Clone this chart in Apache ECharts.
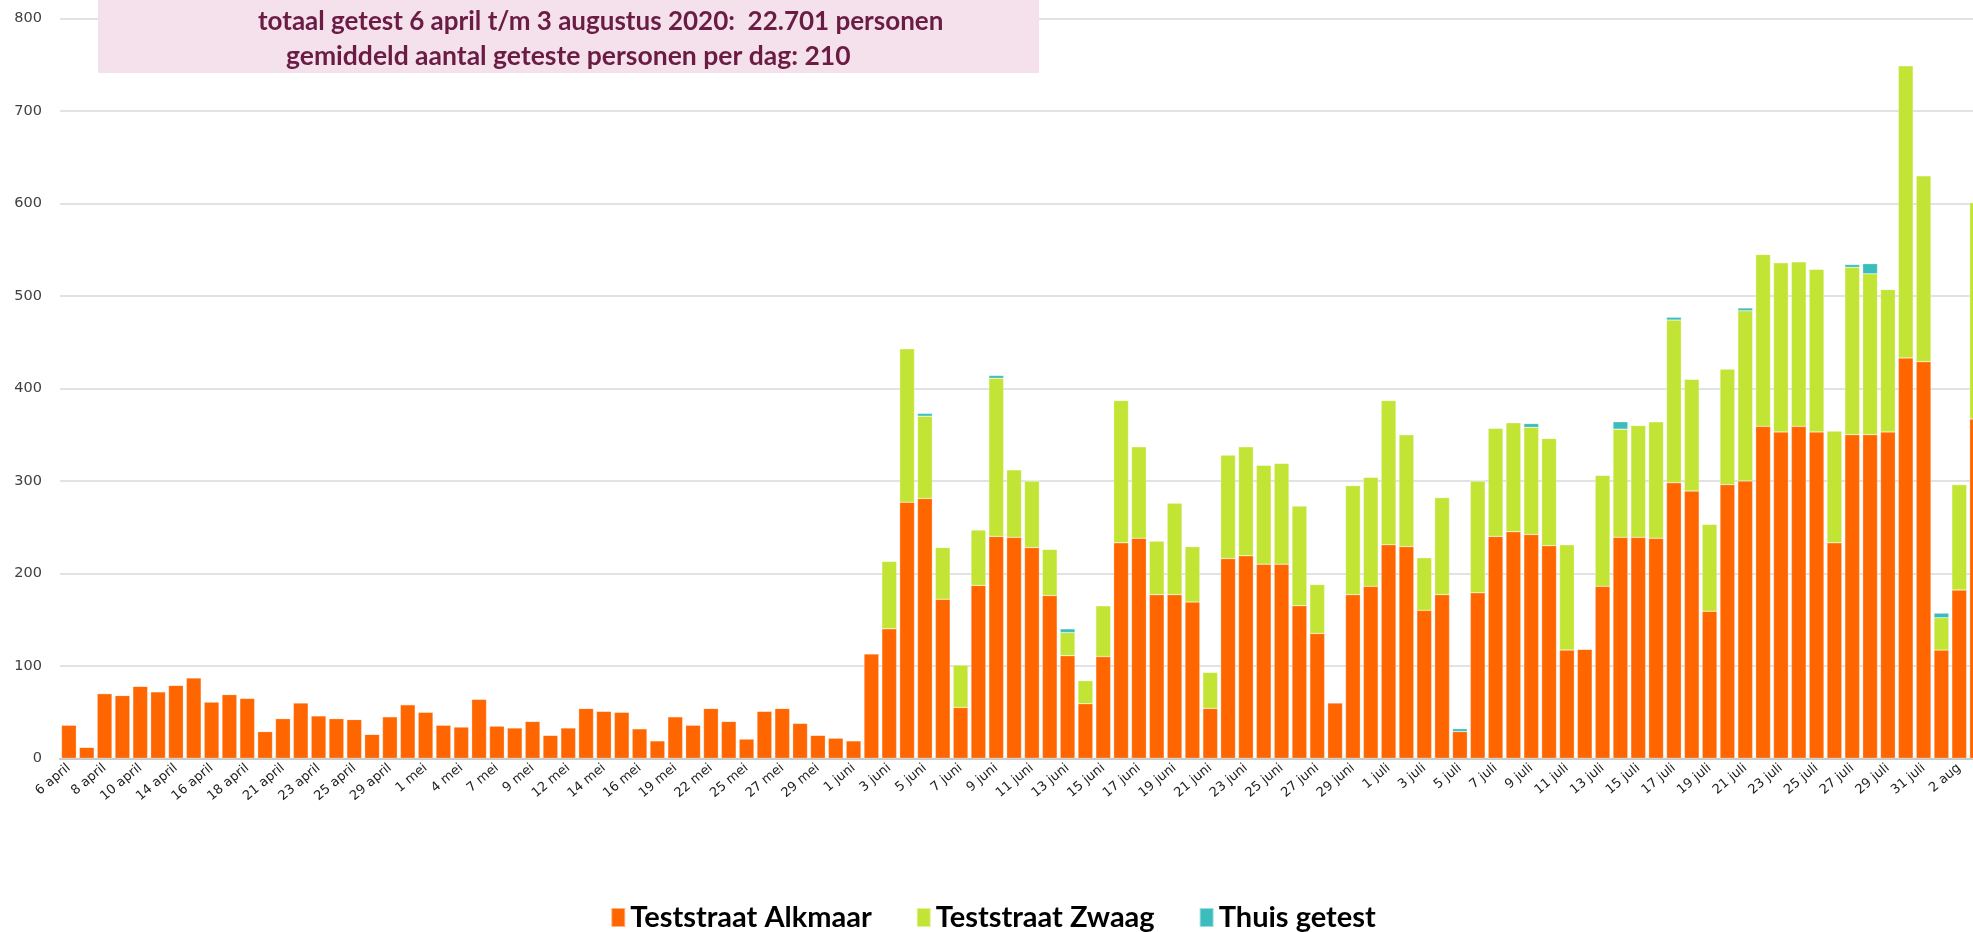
<!DOCTYPE html>
<html>
<head>
<meta charset="utf-8">
<script src="https://cdn.jsdelivr.net/npm/echarts@6/dist/echarts.min.js"></script>
<style>
  html, body { margin: 0; padding: 0; background: #fff; overflow: hidden; }
  /* the original picture is cut off on the right, halfway through the last bar */
  #chart { width: 1986px; height: 932px; }
</style>
</head>
<body>
<div id="chart"></div>
<script>
// test days (weekends skipped in april/may)
const days = [
  '6 april', '7 april', '8 april', '9 april', '10 april', '11 april', '14 april', '15 april',
  '16 april', '17 april', '18 april', '20 april', '21 april', '22 april', '23 april', '24 april',
  '25 april', '28 april', '29 april', '30 april', '1 mei', '2 mei', '4 mei', '6 mei',
  '7 mei', '8 mei', '9 mei', '11 mei', '12 mei', '13 mei', '14 mei', '15 mei',
  '16 mei', '18 mei', '19 mei', '20 mei', '22 mei', '23 mei', '25 mei', '26 mei',
  '27 mei', '28 mei', '29 mei', '30 mei', '1 juni', '2 juni', '3 juni', '4 juni',
  '5 juni', '6 juni', '7 juni', '8 juni', '9 juni', '10 juni', '11 juni', '12 juni',
  '13 juni', '14 juni', '15 juni', '16 juni', '17 juni', '18 juni', '19 juni', '20 juni',
  '21 juni', '22 juni', '23 juni', '24 juni', '25 juni', '26 juni', '27 juni', '28 juni',
  '29 juni', '30 juni', '1 juli', '2 juli', '3 juli', '4 juli', '5 juli', '6 juli',
  '7 juli', '8 juli', '9 juli', '10 juli', '11 juli', '12 juli', '13 juli', '14 juli',
  '15 juli', '16 juli', '17 juli', '18 juli', '19 juli', '20 juli', '21 juli', '22 juli',
  '23 juli', '24 juli', '25 juli', '26 juli', '27 juli', '28 juli', '29 juli', '30 juli',
  '31 juli', '1 aug', '2 aug', '3 aug'
]

const alkmaar = [
  36, 12, 70, 68, 78, 72, 79, 87, 61, 69, 65, 29, 43, 60, 46, 43,
  42, 26, 45, 58, 50, 36, 34, 64, 35, 33, 40, 25, 33, 54, 51, 50,
  32, 19, 45, 36, 54, 40, 21, 51, 54, 38, 25, 22, 19, 113, 140, 277,
  281, 172, 55, 187, 240, 239, 228, 176, 111, 59, 110, 233, 238, 177,
  177, 169, 54, 216, 219, 210, 210, 165, 135, 60, 177, 186, 231, 229,
  160, 177, 29, 179, 240, 245, 242, 230, 117, 118, 186, 239, 239, 238,
  298, 289, 159, 296, 300, 359, 353, 359, 353, 233, 350, 350, 353, 433,
  429, 117, 182, 367
]

const zwaag = [
  0, 0, 0, 0, 0, 0, 0, 0, 0, 0, 0, 0, 0, 0, 0, 0,
  0, 0, 0, 0, 0, 0, 0, 0, 0, 0, 0, 0, 0, 0, 0, 0,
  0, 0, 0, 0, 0, 0, 0, 0, 0, 0, 0, 0, 0, 0, 73, 166,
  89, 56, 46, 60, 171, 73, 72, 50, 25, 25, 55, 154, 99, 58,
  99, 60, 39, 112, 118, 107, 109, 108, 53, 0, 118, 118, 156, 121,
  57, 105, 0, 121, 117, 118, 116, 116, 114, 0, 120, 117, 121, 126,
  176, 121, 94, 125, 184, 186, 183, 178, 176, 121, 181, 174, 154, 316,
  201, 35, 114, 234
]

const thuis = [
  0, 0, 0, 0, 0, 0, 0, 0, 0, 0, 0, 0, 0, 0, 0, 0,
  0, 0, 0, 0, 0, 0, 0, 0, 0, 0, 0, 0, 0, 0, 0, 0,
  0, 0, 0, 0, 0, 0, 0, 0, 0, 0, 0, 0, 0, 0, 0, 0,
  3, 0, 0, 0, 3, 0, 0, 0, 4, 0, 0, 0, 0, 0,
  0, 0, 0, 0, 0, 0, 0, 0, 0, 0, 0, 0, 0, 0,
  0, 0, 3, 0, 0, 0, 4, 0, 0, 0, 0, 8, 0, 0,
  3, 0, 0, 0, 3, 0, 0, 0, 0, 0, 3, 11, 0, 0,
  0, 5, 0, 0
]

const yTicks = [0, 800, 100]

const titleLines = [
  'totaal getest 6 april t/m 3 augustus 2020:  22.701 personen',
  'gemiddeld aantal geteste personen per dag: 210'
]

const chart = echarts.init(document.getElementById('chart'))

const barStyle = { borderColor: 'rgba(255,255,255,0.5)', borderWidth: 0.5 }

const option = {
  animation: false,
  backgroundColor: '#ffffff',
  textStyle: { fontFamily: 'Lato, sans-serif' },
  grid: { left: 60, right: 0, top: 18.6, bottom: 173.7, containLabel: false },
  legend: {
    left: 'center',
    top: 898,
    itemWidth: 14,
    itemHeight: 19,
    itemGap: 44,
    icon: 'rect',
    textStyle: { fontFamily: 'Lato', fontWeight: 'bold', fontSize: 29, color: '#000' },
    data: ['Teststraat Alkmaar', 'Teststraat Zwaag', 'Thuis getest']
  },
  xAxis: {
    type: 'category',
    data: days,
    axisTick: { show: false },
    axisLine: { lineStyle: { color: '#c8c8c8', width: 2 } },
    axisLabel: {
      interval: 1,
      rotate: 40,
      margin: 8,
      fontFamily: 'DejaVu Sans',
      fontSize: 13,
      color: '#222'
    }
  },
  yAxis: {
    type: 'value',
    min: yTicks[0],
    max: yTicks[1],
    interval: yTicks[2],
    axisLine: { show: false },
    axisTick: { show: false },
    splitLine: { lineStyle: { color: '#d9d9d9', width: 1.5 } },
    axisLabel: { margin: 18, fontFamily: 'DejaVu Sans', fontSize: 14.5, color: '#404040' }
  },
  series: [
    {
      name: 'Teststraat Alkmaar', type: 'bar', stack: 'tot',
      barCategoryGap: '17%', data: alkmaar,
      itemStyle: Object.assign({ color: '#ff6600' }, barStyle)
    },
    {
      name: 'Teststraat Zwaag', type: 'bar', stack: 'tot', data: zwaag,
      itemStyle: Object.assign({ color: '#c2e535' }, barStyle)
    },
    {
      name: 'Thuis getest', type: 'bar', stack: 'tot', data: thuis,
      itemStyle: Object.assign({ color: '#3cbcbc' }, barStyle)
    }
  ],
  graphic: [
    {
      type: 'rect', left: 98, top: 0, z: 100,
      shape: { width: 941, height: 73 },
      style: { fill: '#f5e1ec' }
    },
    {
      type: 'text', x: 258, y: 22, z: 101,
      style: {
        text: titleLines[0], fill: '#6b1c45', font: 'bold 26px Lato',
        align: 'left', verticalAlign: 'middle'
      }
    },
    {
      type: 'text', x: 286, y: 56, z: 101,
      style: {
        text: titleLines[1], fill: '#6b1c45', font: 'bold 26.5px Lato',
        align: 'left', verticalAlign: 'middle'
      }
    }
  ]
}

chart.setOption(option)
</script>
</body>
</html>
